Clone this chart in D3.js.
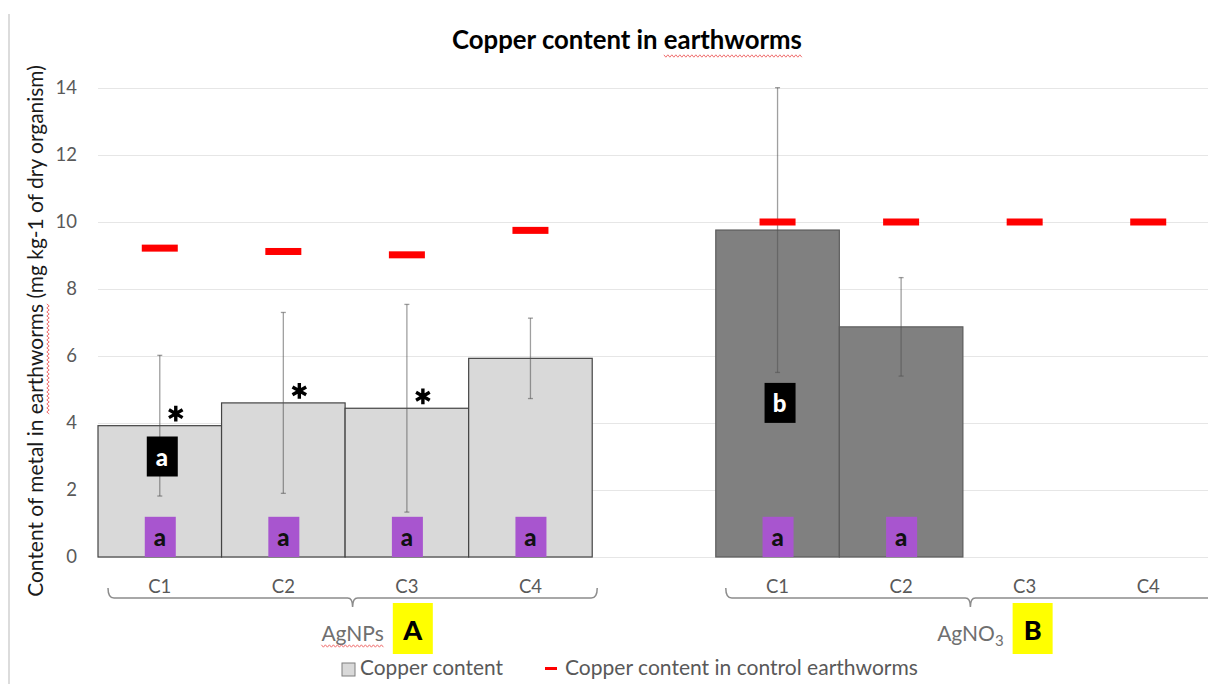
<!DOCTYPE html>
<html>
<head>
<meta charset="utf-8">
<script src="https://cdn.jsdelivr.net/npm/d3@7"></script>
<style>
  body { margin: 0; background: #fff; }
  text { font-family: Lato, "Open Sans", sans-serif; }
</style>
</head>
<body>
<div id="chart"></div>
<script>
var svgWidth = 1208;
var svgHeight = 684;

// data
var groups = ["AgNPs", "AgNO3"];
var groupLetters = ["A", "B"];
var doses = ["C1", "C2", "C3", "C4"];
var copperMean = [3.92, 4.60, 4.44, 5.93, 9.76, 6.87, null, null];
var copperSd = [2.10, 2.70, 3.10, 1.20, 4.25, 1.47, null, null];
var controlMean = [9.22, 9.12, 9.02, 9.75, 10.0, 10.0, 10.0, 10.0];
var purpleLetter = ["a", "a", "a", "a", "a", "a", null, null];
var blackLetter = ["a", null, null, null, "b", null, null, null];
var blackLetterAt = [3.0, null, null, null, 4.6, null, null, null];
var starred = [true, true, true, false, false, false, false, false];
var yTicks = [0, 2, 4, 6, 8, 10, 12, 14];

var plot = { left: 98, right: 1210, top: 88, bottom: 557 };

var rows = [];
groups.forEach(function(g, gi) {
  doses.forEach(function(c, ci) {
    var i = gi * doses.length + ci;
    rows.push({
      key: g + "|" + c, group: gi, dose: c,
      mean: copperMean[i], sd: copperSd[i], control: controlMean[i],
      purple: purpleLetter[i], black: blackLetter[i], blackAt: blackLetterAt[i],
      star: starred[i]
    });
  });
});

var keys = rows.slice(0, 4).map(d => d.key).concat(["gap"], rows.slice(4).map(d => d.key));

var x = d3.scaleBand().domain(keys).range([plot.left, plot.right]).padding(0);
var y = d3.scaleLinear().domain([0, 14]).range([plot.bottom, plot.top]);

var svg = d3.select("#chart").append("svg")
  .attr("width", svgWidth)
  .attr("height", svgHeight);

// frame edge on the left
svg.append("line")
  .attr("x1", 9).attr("x2", 9).attr("y1", 14).attr("y2", svgHeight)
  .attr("stroke", "#dcdcdc").attr("stroke-width", 2);

// gridlines
svg.append("g")
  .attr("transform", `translate(${plot.left},0)`)
  .call(d3.axisLeft(y).tickValues(yTicks).tickSize(-(svgWidth - plot.left)).tickFormat(""))
  .call(g => g.select(".domain").remove())
  .call(g => g.selectAll("line").attr("stroke", "#e6e6e6").attr("stroke-width", 1.2));

// y axis labels
svg.append("g")
  .attr("transform", `translate(${plot.left},0)`)
  .call(d3.axisLeft(y).tickValues(yTicks).tickSize(0).tickPadding(21))
  .call(g => g.select(".domain").remove())
  .call(g => g.selectAll("text")
    .attr("fill", "#595959")
    .style("font-size", "18.5px")
    .style("font-family", "Lato, sans-serif"));

// x tick labels
svg.append("g")
  .attr("transform", `translate(0,${plot.bottom})`)
  .call(d3.axisBottom(x).tickSize(0).tickFormat(k => k === "gap" ? "" : k.split("|")[1]))
  .call(g => g.select(".domain").remove())
  .call(g => g.selectAll("text")
    .attr("y", 36).attr("dy", 0)
    .attr("fill", "#595959")
    .style("font-size", "18.5px")
    .style("font-family", "Lato, sans-serif"));

var data = rows.filter(d => d.mean != null);

// bars
svg.append("g").selectAll("rect")
  .data(data)
  .enter()
  .append("rect")
  .attr("x", d => x(d.key))
  .attr("y", d => y(d.mean))
  .attr("width", x.bandwidth())
  .attr("height", d => y(0) - y(d.mean))
  .attr("fill", d => d.group === 0 ? "#d9d9d9" : "#808080")
  .attr("stroke", d => d.group === 0 ? "#444" : "#5c5c5c")
  .attr("stroke-width", 1.2);

// error bars
var err = svg.append("g")
  .attr("stroke", "#505050")
  .attr("stroke-opacity", 0.55)
  .attr("stroke-width", 1.3);
data.forEach(function(d) {
  var cx = x(d.key) + x.bandwidth() / 2;
  err.append("line").attr("x1", cx).attr("x2", cx)
    .attr("y1", y(d.mean + d.sd)).attr("y2", y(d.mean - d.sd));
  [d.mean + d.sd, d.mean - d.sd].forEach(function(v) {
    err.append("line").attr("x1", cx - 2.5).attr("x2", cx + 2.5)
      .attr("y1", y(v)).attr("y2", y(v));
  });
});

// control markers
svg.append("g").selectAll("rect")
  .data(rows)
  .enter()
  .append("rect")
  .attr("x", d => x(d.key) + x.bandwidth() / 2 - 18)
  .attr("y", d => y(d.control) - 3.5)
  .attr("width", 36)
  .attr("height", 7)
  .attr("fill", "#ff0000");

// purple letter boxes at the base
var purple = svg.append("g").selectAll("g")
  .data(rows.filter(d => d.purple))
  .enter()
  .append("g")
  .attr("transform", d => `translate(${x(d.key) + x.bandwidth() / 2},0)`);
purple.append("rect")
  .attr("x", -15).attr("width", 31)
  .attr("y", y(1.2)).attr("height", y(0) - y(1.2))
  .attr("fill", "#a855cf");
purple.append("text")
  .attr("y", y(0.6)).attr("dy", "0.38em")
  .attr("text-anchor", "middle")
  .style("font-size", "24px").style("font-weight", "900")
  .attr("fill", "#111")
  .text(d => d.purple);

// black letter boxes
var black = svg.append("g").selectAll("g")
  .data(rows.filter(d => d.black))
  .enter()
  .append("g")
  .attr("transform", d => `translate(${x(d.key) + x.bandwidth() / 2 + 2},${y(d.blackAt)})`);
black.append("rect")
  .attr("x", -15).attr("y", -20).attr("width", 31).attr("height", 40)
  .attr("fill", "#000");
black.append("text")
  .attr("dy", "0.38em")
  .attr("text-anchor", "middle")
  .style("font-size", "24px").style("font-weight", "900")
  .attr("fill", "#fff")
  .text(d => d.black);

// asterisks
svg.append("g").selectAll("path")
  .data(rows.filter(d => d.star))
  .enter()
  .append("path")
  .attr("transform", d => `translate(${x(d.key) + x.bandwidth() / 2 + 16},${y(d.mean) - 12})`)
  .attr("d", d3.symbol().type(d3.symbolAsterisk).size(175))
  .attr("stroke", "#000")
  .attr("stroke-width", 3.4)
  .attr("fill", "none");

// group brackets and labels
groups.forEach(function(g, gi) {
  var first = x(rows[gi * 4].key) + 10;
  var last = x(rows[gi * 4 + 3].key) + x.bandwidth() + 5;
  var mid = (first + last) / 2;
  svg.append("path")
    .attr("d", `M${first},588 Q${first},598 ${first + 6},598 H${mid - 5} Q${mid},598 ${mid},607 Q${mid},598 ${mid + 5},598 H${last - 6} Q${last},598 ${last},588`)
    .attr("fill", "none")
    .attr("stroke", "#8c8c8c")
    .attr("stroke-width", 1.5);

  var label = svg.append("text")
    .attr("x", mid).attr("y", 641)
    .attr("text-anchor", "middle")
    .attr("fill", "#6f6f6f")
    .style("font-size", "21px");
  if (g === "AgNO3") {
    label.append("tspan").text("AgNO");
    label.append("tspan").attr("dy", 5).style("font-size", "15px").text("3");
  } else {
    label.text(g);
  }
  var bb = label.node().getBBox();
  var bx = bb.x + bb.width + 9;
  svg.append("rect")
    .attr("x", bx).attr("y", 603).attr("width", 40).attr("height", 51)
    .attr("fill", "#ffff00");
  svg.append("text")
    .attr("x", bx + 20).attr("y", 640)
    .attr("text-anchor", "middle")
    .style("font-size", "27px").style("font-weight", "900")
    .attr("fill", "#000")
    .text(groupLetters[gi]);
  if (g === "AgNPs") squiggle(bb.x, bb.x + bb.width, 646, false);
});

// title
var title = svg.append("text")
  .attr("x", 627).attr("y", 49)
  .attr("text-anchor", "middle")
  .style("font-size", "22px").style("font-weight", "bold")
  .attr("fill", "#000")
  .text("Copper content in earthworms");
fitWidth(title, 350);

// y axis title
var yTitle = svg.append("text")
  .attr("transform", "translate(43,331) rotate(-90)")
  .attr("text-anchor", "middle")
  .attr("fill", "#1a1a1a")
  .style("font-size", "18px")
  .text("Content of metal in earthworms (mg kg-1 of dry organism)");
fitWidth(yTitle, 532);

// legend
var legend = svg.append("g");
legend.append("rect")
  .attr("x", 342).attr("y", 663).attr("width", 13).attr("height", 13)
  .attr("fill", "#d9d9d9").attr("stroke", "#7f7f7f").attr("stroke-width", 1);
var l1 = legend.append("text")
  .attr("x", 360).attr("y", 675)
  .attr("fill", "#595959").style("font-size", "18px")
  .text("Copper content");
fitWidth(l1, 143);
legend.append("rect")
  .attr("x", 545).attr("y", 667).attr("width", 12).attr("height", 3)
  .attr("fill", "#ff0000");
var l2 = legend.append("text")
  .attr("x", 565).attr("y", 675)
  .attr("fill", "#595959").style("font-size", "18px")
  .text("Copper content in control earthworms");
fitWidth(l2, 353);

// spell-check squiggles
var tn = title.node();
var wStart = tn.getStartPositionOfChar(18).x;
var wEnd = tn.getEndPositionOfChar(27).x;
squiggle(wStart, wEnd, 56, false);

var yn = yTitle.node();
var s0 = yn.getStartPositionOfChar(20).x;
var s1 = yn.getEndPositionOfChar(29).x;
// along the rotated text: local x -> screen y = 331 - localX
squiggle(331 - s1, 331 - s0, 48, true);

function fitWidth(sel, target) {
  var size = parseFloat(sel.style("font-size"));
  var w = sel.node().getComputedTextLength();
  sel.style("font-size", (size * target / w).toFixed(2) + "px");
}

function squiggle(a, b, at, vertical) {
  var pts = [];
  for (var t = a, k = 0; t <= b; t += 2, k++) {
    var off = (k % 2 === 0) ? -1.2 : 1.2;
    pts.push(vertical ? [at + off, t] : [t, at + off]);
  }
  svg.append("path")
    .attr("d", d3.line()(pts))
    .attr("fill", "none")
    .attr("stroke", "#f07070")
    .attr("stroke-width", 1);
}
</script>
</body>
</html>
